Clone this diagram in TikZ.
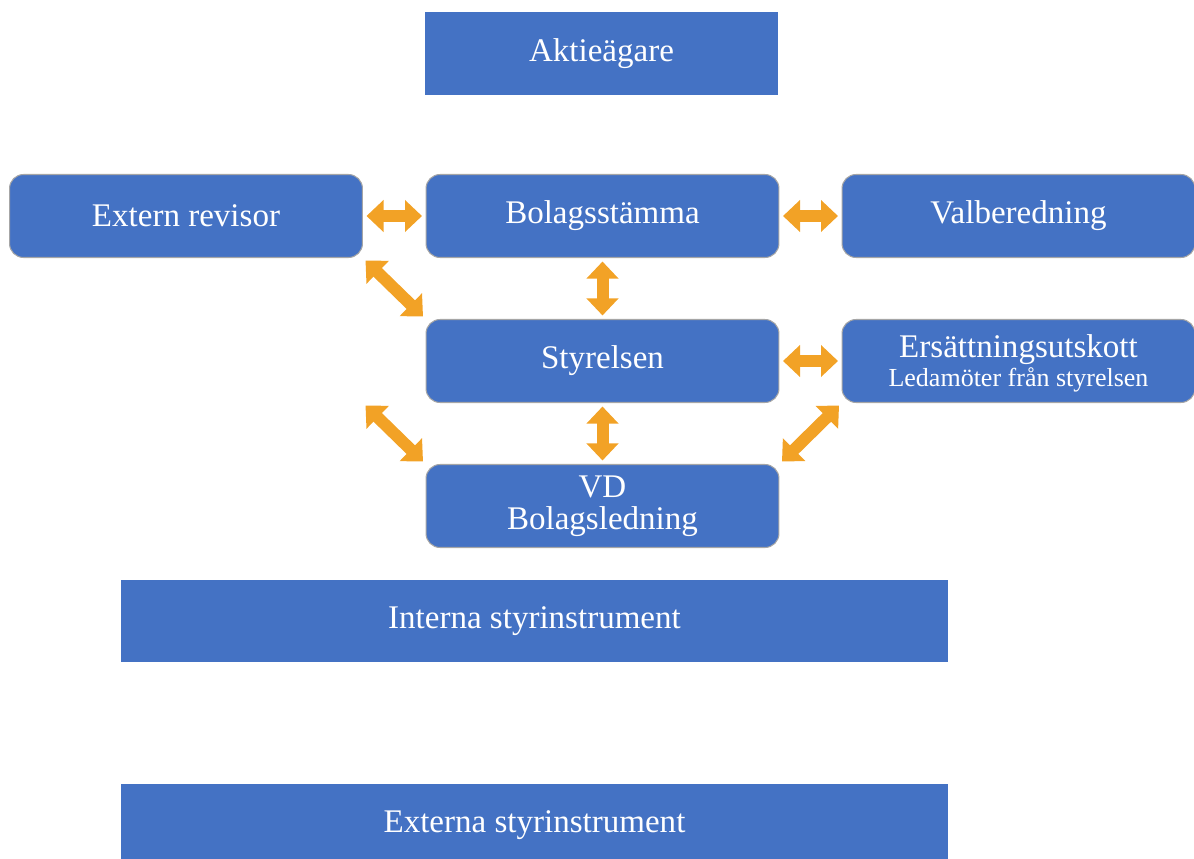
\documentclass[tikz,border=0pt]{standalone}
\usepackage{fontspec}
\setmainfont{Liberation Serif}
\usetikzlibrary{arrows.meta,positioning}
\definecolor{BoxBlue}{RGB}{68,114,196}
\definecolor{ArrowOrange}{RGB}{242,162,38}

\begin{document}
\begin{tikzpicture}[x=0.02cm,y=-0.02cm,
    box/.style={fill=BoxBlue,text=white,minimum width=7.06cm,minimum height=1.66cm,inner sep=0pt,font=\fontsize{18.8}{21}\selectfont,align=center},
    rbox/.style={box,draw=gray!70,line width=0.6pt,rounded corners=0.28cm},
    link/.style={ArrowOrange,line width=0.24cm,{Triangle[width=0.62cm,length=0.34cm]}-{Triangle[width=0.62cm,length=0.34cm]},shorten <=2pt,shorten >=2pt}]
  \useasboundingbox (0,0) rectangle (1194,859);
  % boxes
  \node[box] (akt) at (601.5,53.5) {Aktieägare};
  \node[rbox] (ext) at (186,216) {Extern revisor};
  \node[rbox] (bol) at (602.5,216) {Bolagsstämma};
  \node[rbox] (val) at (1018.5,216) {Valberedning};
  \node[rbox] (sty) at (602.5,361) {Styrelsen};
  \node[rbox,text depth=0pt] (ers) at (1018.5,361) {Ersättningsutskott\\[-4.5pt]{\fontsize{14.8}{16}\selectfont Ledamöter från styrelsen}};
  \node[rbox] (vd) at (602.5,506) {VD\\[-3pt]Bolagsledning};
  \node[box,minimum width=16.54cm,minimum height=1.64cm] (int) at (534.5,621) {Interna styrinstrument};
  \node[box,minimum width=16.54cm,minimum height=1.64cm] (xst) at (534.5,825) {Externa styrinstrument};
  \coordinate (extlow) at (ext.east |- sty.south);
  % arrows
  \draw[link] (ext.east) -- (bol.west);
  \draw[link] (bol.east) -- (val.west);
  \draw[link] (bol.south) -- (sty.north);
  \draw[link] (sty.east) -- (ers.west);
  \draw[link] (sty.south) -- (vd.north);
  \draw[link] (ext.south east) -- (sty.north west);
  \draw[link] (extlow) -- (vd.north west);
  \draw[link] (ers.south west) -- (vd.north east);
\end{tikzpicture}
\end{document}
